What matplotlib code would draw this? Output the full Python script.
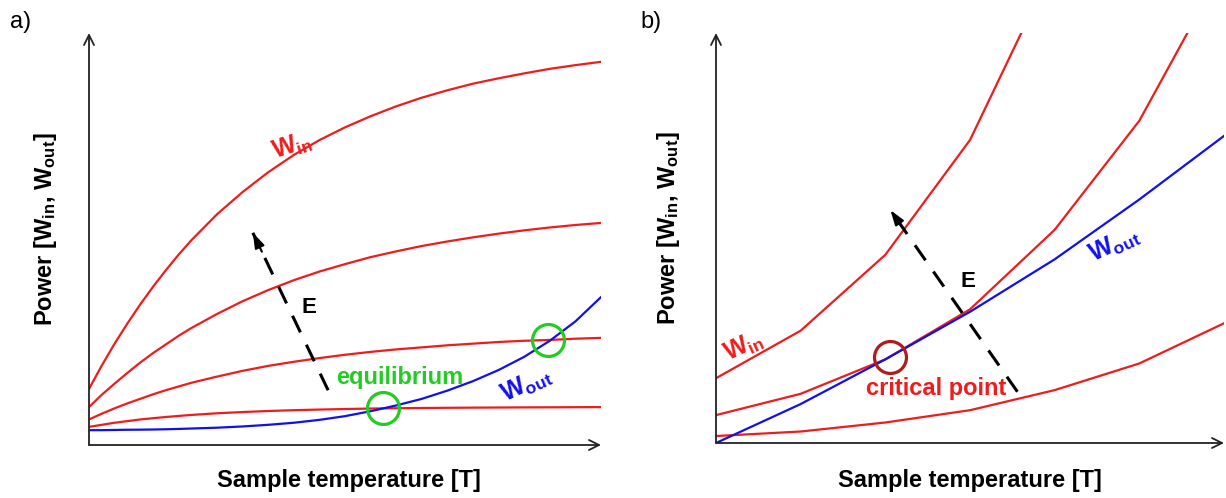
import numpy as np
import matplotlib.pyplot as plt

plt.rcParams['font.family'] = ['Liberation Sans', 'DejaVu Sans']
plt.rcParams['mathtext.fontset'] = 'custom'
plt.rcParams['mathtext.rm'] = 'Liberation Sans'
plt.rcParams['mathtext.bf'] = 'Liberation Sans:bold'
plt.rcParams['mathtext.default'] = 'bf'

RED = '#ee1c1c'
BLUE = '#1010ee'
GREEN = '#22cc22'
DARKRED = '#b01c1c'

# panel a: saturating input power curves, growing output power
xa = [0, 2.5, 5, 7.5, 10, 12.5, 15, 17.5, 20, 25, 30, 35, 40, 45, 50,
      55, 60, 65, 70, 75, 80, 85, 90, 95, 100]
win_a = [
    [13.6, 19.3, 24.6, 29.5, 34.1, 38.4, 42.4, 46.2, 49.7, 56.0, 61.4, 66.2, 70.4,
     74.0, 77.1, 79.8, 82.2, 84.3, 86.1, 87.7, 89.0, 90.2, 91.3, 92.2, 93.0],
    [9.2, 12.2, 14.9, 17.5, 20.0, 22.3, 24.4, 26.5, 28.4, 31.8, 34.9, 37.6, 40.0,
     42.1, 43.9, 45.6, 47.0, 48.3, 49.4, 50.4, 51.3, 52.1, 52.8, 53.4, 53.9],
    [6.2, 7.6, 8.9, 10.1, 11.2, 12.3, 13.3, 14.2, 15.1, 16.6, 18.0, 19.2, 20.2,
     21.1, 21.9, 22.6, 23.2, 23.7, 24.2, 24.6, 25.0, 25.3, 25.5, 25.8, 26.0],
    [4.4, 4.9, 5.4, 5.8, 6.2, 6.5, 6.8, 7.05, 7.3, 7.7, 8.0, 8.25, 8.45,
     8.6, 8.73, 8.85, 8.92, 8.98, 9.03, 9.07, 9.1, 9.13, 9.15, 9.18, 9.2],
]
wout_a = [3.6, 3.6, 3.65, 3.7, 3.72, 3.76, 3.82, 3.9, 4.0, 4.2, 4.5, 4.9, 5.4,
          6.1, 7.0, 8.2, 9.6, 11.2, 13.2, 15.5, 18.2, 21.4, 25.3, 30.0, 35.9]
eq_x = [57.4, 89.6]
eq_y = [8.9, 25.4]

# panel b: piecewise input power curves and output power
xb = [0, 1, 2, 3, 4, 5, 6]
win_b = [
    [15.8, 27.4, 45.9, 73.9, 117.0, 160.0, 200.0],
    [6.8, 12.0, 20.4, 32.6, 52.0, 78.6, 116.3],
    [1.7, 2.8, 5.0, 8.0, 12.9, 19.4, 29.2],
]
wout_b = [0.0, 9.5, 20.4, 32.0, 44.8, 59.4, 74.9]
crit_x = [2.05]
crit_y = [21.0]

fig = plt.figure(figsize=(12.26, 4.98), dpi=100)
ax1 = fig.add_axes([89 / 1226, 53 / 498, 512 / 1226, 412 / 498])
ax2 = fig.add_axes([716 / 1226, 55 / 498, 508 / 1226, 410 / 498])


def setup_axes(ax, xmax):
    ax.set_xlim(0, xmax)
    ax.set_ylim(0, 100)
    for s in ax.spines.values():
        s.set_visible(False)
    ax.set_xticks([])
    ax.set_yticks([])
    ax.patch.set_alpha(0)
    arr = dict(arrowstyle='->', lw=1.3, color='#222222', mutation_scale=18,
               shrinkA=0, shrinkB=0)
    ax.annotate('', xy=(0, 1), xytext=(0, 0), xycoords='axes fraction', arrowprops=arr)
    ax.annotate('', xy=(1, 0), xytext=(0, 0), xycoords='axes fraction', arrowprops=arr)


def e_arrow(ax, start, tip):
    ax.plot([start[0], tip[0]], [start[1], tip[1]], color='k', lw=2.2,
            dashes=(6, 4.5), zorder=4)
    d = np.array(tip) - np.array(start)
    back = np.array(tip) - 0.12 * d
    ax.annotate('', xy=tip, xytext=tuple(back),
                arrowprops=dict(arrowstyle='-|>,head_length=0.9,head_width=0.3',
                                color='k', lw=1.5, shrinkA=0, shrinkB=0), zorder=5)


setup_axes(ax1, 100)
for ys in win_a:
    ax1.plot(xa, ys, color=RED, lw=1.6)
ax1.plot(xa, wout_a, color=BLUE, lw=1.6)
ax1.plot(eq_x, eq_y, 'o', ms=23, mfc='none', mec=GREEN, mew=2.3, zorder=6)
e_arrow(ax1, (46.7, 13.3), (32.0, 51.5))
ax1.text(43.0, 33.3, 'E', fontsize=16, fontweight='bold', ha='center', va='center')
ax1.text(60.7, 16.5, 'equilibrium', color=GREEN, fontsize=17, fontweight='bold',
         ha='center', va='center')
ax1.text(39.6, 72.6, r'$W_{in}$', color=RED, fontsize=18, rotation=18,
         ha='center', va='center')
ax1.text(85.5, 14.6, r'$W_{out}$', color=BLUE, fontsize=18, rotation=25,
         ha='center', va='center')

setup_axes(ax2, 6)
for ys in win_b:
    ax2.plot(xb, ys, color=RED, lw=1.6)
ax2.plot(xb, wout_b, color=BLUE, lw=1.6)
ax2.plot(crit_x, crit_y, 'o', ms=23, mfc='none', mec=DARKRED, mew=2.3, zorder=6)
e_arrow(ax2, (3.56, 12.5), (2.06, 56.8))
ax2.text(2.98, 39.3, 'E', fontsize=16, fontweight='bold', ha='center', va='center')
ax2.text(2.60, 13.2, 'critical point', color=RED, fontsize=17, fontweight='bold',
         ha='center', va='center')
ax2.text(0.33, 23.4, r'$W_{in}$', color=RED, fontsize=18, rotation=25,
         ha='center', va='center')
ax2.text(4.70, 48.3, r'$W_{out}$', color=BLUE, fontsize=18, rotation=25,
         ha='center', va='center')

ylab = r'Power [$W_{in}$, $W_{out}$]'
xlab = 'Sample temperature [T]'
for xc, yc in [(46, 229), (669, 228)]:
    fig.text(xc / 1226, 1 - yc / 498, ylab, rotation=90, fontsize=17,
             fontweight='bold', ha='center', va='center')
for xc in [349, 970]:
    fig.text(xc / 1226, 1 - 480 / 498, xlab, fontsize=17, fontweight='bold',
             ha='center', va='center')
fig.text(10 / 1226, 1 - 22 / 498, 'a)', fontsize=17, ha='left', va='center')
fig.text(640 / 1226, 1 - 22 / 498, 'b)', fontsize=17, ha='left', va='center')

fig.savefig('out.png', dpi=100)
